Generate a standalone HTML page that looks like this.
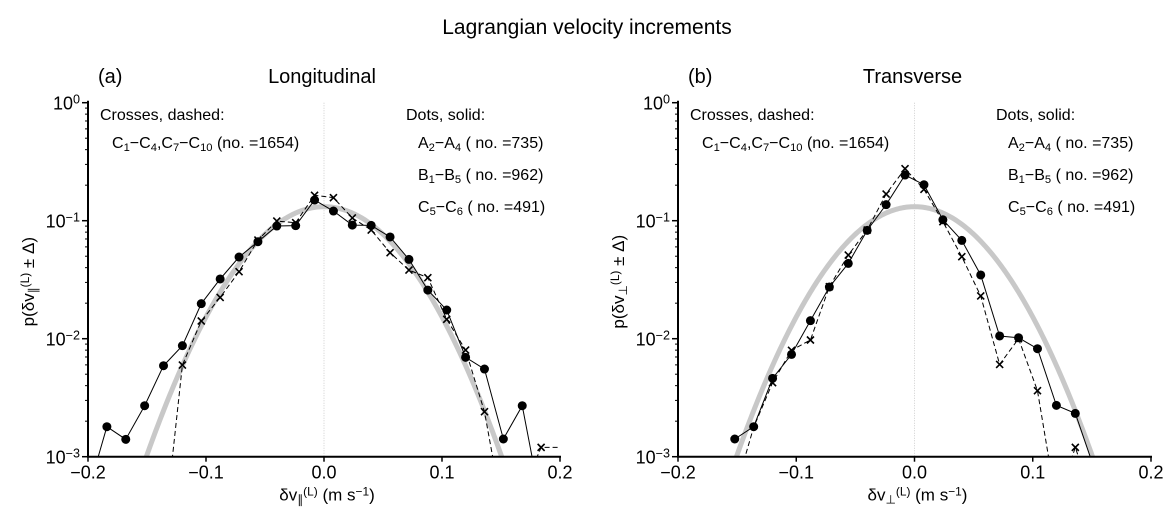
<!DOCTYPE html>
<html><head><meta charset="utf-8">
<style>
html,body{margin:0;background:#fff;overflow:hidden;width:1175px;height:525px;}
svg{display:block;font-family:"Liberation Sans",sans-serif;overflow:hidden;}
</style></head>
<body>
<svg id="chart" width="1175" height="525" viewBox="0 0 1175 525">
<text x="587" y="34" font-size="21" text-anchor="middle">Lagrangian velocity increments</text>
</svg>
<script>
const binCenters = [-0.200,-0.184,-0.168,-0.152,-0.136,-0.120,-0.104,-0.088,-0.072,-0.056,-0.040,-0.024,-0.008,0.008,0.024,0.040,0.056,0.072,0.088,0.104,0.120,0.136,0.152,0.168,0.184,0.200];
// log10 values
const longDots = [-3.3,-2.746,-2.853,-2.568,-2.229,-2.059,-1.703,-1.494,-1.308,-1.178,-1.045,-1.042,-0.825,-0.918,-1.037,-1.040,-1.138,-1.328,-1.588,-1.757,-2.158,-2.257,-2.850,-2.568,-3.4,null];
const longCross = [null,null,null,null,-3.7,-2.223,-1.850,-1.650,-1.432,-1.164,-1.003,-1.017,-0.785,-0.805,-0.977,-1.079,-1.271,-1.418,-1.483,-1.836,-2.096,-2.619,-3.5,-3.3,-2.921,-2.921];
const longCrossShown = [0,0,0,0,0,1,1,1,1,1,1,1,1,1,1,1,1,1,1,1,1,1,0,0,1,0];
const transDots = [null,null,null,-2.850,-2.746,-2.336,-2.133,-1.847,-1.562,-1.362,-1.082,-0.864,-0.613,-0.695,-0.992,-1.167,-1.460,-1.977,-1.992,-2.085,-2.565,-2.633,-3.1,null,null,null];
const transCross = [null,null,null,-3.3,-2.75,-2.373,-2.098,-2.011,-1.559,-1.291,-1.079,-0.774,-0.559,-0.734,-1.008,-1.305,-1.638,-2.218,-2.0,-2.441,-3.4,-2.921,-3.4,null,null,null];
const transCrossShown = [0,0,0,0,0,1,1,1,1,1,1,1,1,1,1,1,1,1,1,1,0,1,0,0,0,0];
const gaussPeak = 0.1315, gaussSigma = 0.0482;
const xTicks = [-0.2,-0.1,0.0,0.1,0.2];
const xTickLabels = ["\u22120.2","\u22120.1","0.0","0.1","0.2"];
const yDecades = [0,-1,-2,-3];

const NS="http://www.w3.org/2000/svg";
const svg=document.getElementById('chart');
function mk(tag,attrs,parent){const e=document.createElementNS(NS,tag);for(const k in attrs)e.setAttribute(k,attrs[k]);(parent||svg).appendChild(e);return e;}
const sub=s=>'<tspan baseline-shift="-25%" font-size="70%">'+s+'</tspan>';
const sup=s=>'<tspan baseline-shift="45%" font-size="70%">'+s+'</tspan>';

const panels=[
 {x0:88,x1:560,label:"(a)",title:"Longitudinal",dots:longDots,cross:longCross,shown:longCrossShown,name:"longitudinal",sub:"\u2225"},
 {x0:678,x1:1151,label:"(b)",title:"Transverse",dots:transDots,cross:transCross,shown:transCrossShown,name:"transverse",sub:"\u22a5"}
];
const yTop=102.7,yBot=456.7;
panels.forEach((p,pi)=>{
 const sx=v=>p.x0+(v+0.2)/0.4*(p.x1-p.x0);
 const sy=l=>yBot-(l+3)/3*(yBot-yTop);
 const g=mk('g',{});
 
 
 const clipId='clip'+pi;
 const cp=mk('clipPath',{id:clipId},g);mk('rect',{x:p.x0,y:yTop,width:p.x1-p.x0+20,height:yBot-yTop},cp);
 const zl=mk('line',{x1:sx(0),x2:sx(0),y1:yTop,y2:yBot,stroke:'#bbb','stroke-width':0.7,'stroke-dasharray':'1,1.5'},g);
 
 let d='';for(let i=0;i<=300;i++){const v=-0.2+0.4*i/300;const l=Math.log10(gaussPeak)-v*v/(2*gaussSigma*gaussSigma)/Math.LN10;d+=(i?'L':'M')+sx(v).toFixed(2)+','+sy(l).toFixed(2);}
 const gp=mk('path',{d:d,fill:'none',stroke:'#c8c8c8','stroke-width':5,'clip-path':'url(#'+clipId+')'},g);
 
 function linePath(arr){let s='',pen=false;arr.forEach((l,i)=>{if(l===null){pen=false;return;}s+=(pen?'L':'M')+sx(binCenters[i]).toFixed(2)+','+sy(l).toFixed(2);pen=true;});return s;}
 const cl=mk('path',{d:linePath(p.cross),fill:'none',stroke:'#000','stroke-width':1,'stroke-dasharray':'5,3','clip-path':'url(#'+clipId+')'},g);
 
 const dl=mk('path',{d:linePath(p.dots),fill:'none',stroke:'#000','stroke-width':1,'clip-path':'url(#'+clipId+')'},g);
 
 p.cross.forEach((l,i)=>{if(l===null||!p.shown[i])return;const cx=sx(binCenters[i]),cy=sy(l);
  const c=mk('path',{d:`M${cx-3.5},${cy-3.5}L${cx+3.5},${cy+3.5}M${cx-3.5},${cy+3.5}L${cx+3.5},${cy-3.5}`,stroke:'#000','stroke-width':1.6},g);
  });
 p.dots.forEach((l,i)=>{if(l===null||l<-3)return;const c=mk('circle',{cx:sx(binCenters[i]),cy:sy(l),r:4.5,fill:'#000'},g);
  });
 const ax=mk('path',{d:`M${p.x0},${yTop-2}L${p.x0},${yBot}L${p.x1+1},${yBot}`,fill:'none',stroke:'#000','stroke-width':2},g);
 
 xTicks.forEach((v,i)=>{const x=sx(v);mk('line',{x1:x,x2:x,y1:yBot,y2:yBot+5,stroke:'#000','stroke-width':1.5},g);
  const t=mk('text',{x:x,y:yBot+22,'font-size':18,'text-anchor':'middle'},g);t.textContent=xTickLabels[i];
  });
 yDecades.forEach(dc=>{const y=sy(dc);mk('line',{x1:p.x0-6,x2:p.x0,y1:y,y2:y,stroke:'#000','stroke-width':1.5},g);
  const t=mk('text',{x:p.x0-8,y:y+7,'font-size':18,'text-anchor':'end'},g);
  
  t.innerHTML='10'+sup(dc===0?'0':'\u2212'+(-dc));
  if(dc>-3)for(let m=2;m<=9;m++){const ym=sy(dc-1+Math.log10(m));mk('line',{x1:p.x0-3,x2:p.x0,y1:ym,y2:ym,stroke:'#000','stroke-width':1},g);}
 });
 const lab=mk('text',{x:p.x0+10,y:83,'font-size':20},g);lab.textContent=p.label;
 
 const tt=mk('text',{x:(p.x0+p.x1)/2-2,y:83,'font-size':20,'text-anchor':'middle'},g);tt.textContent=p.title;
 
 const lg=mk('g',{'font-size':16},g);
 
 const L=(x,y,html)=>{const t=mk('text',{x:x,y:y},lg);t.innerHTML=html;return t;};
 L(p.x0+12,120,'Crosses, dashed:');
 L(p.x0+24,148,'C'+sub('1')+'\u2212C'+sub('4')+',C'+sub('7')+'\u2212C'+sub('10')+' (no. =1654)');
 L(p.x0+318,120,'Dots, solid:');
 L(p.x0+330,148,'A'+sub('2')+'\u2212A'+sub('4')+' ( no. =735)');
 L(p.x0+330,180,'B'+sub('1')+'\u2212B'+sub('5')+' ( no. =962)');
 L(p.x0+330,212,'C'+sub('5')+'\u2212C'+sub('6')+' ( no. =491)');
 const xt=mk('text',{x:sx(0)+3,y:yBot+44,'font-size':17,'text-anchor':'middle'},g);
 xt.innerHTML='\u03b4v'+(pi===0?sub('\u2225'):sub('\u22a5'))+sup('(L)')+' (m s'+sup('\u22121')+')';
 
 const yt=mk('text',{transform:`translate(${p.x0-54},${(yTop+yBot)/2+2}) rotate(-90)`,'font-size':17,'text-anchor':'middle'},g);
 yt.innerHTML='p(\u03b4v'+sub(p.sub)+sup('(L)')+' \u00b1 \u0394)';
 
});
</script>
</body></html>
